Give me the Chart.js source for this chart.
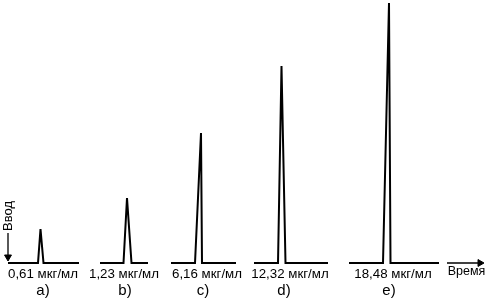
<!DOCTYPE html>
<html>
<head>
<meta charset="utf-8">
<script src="https://cdn.jsdelivr.net/npm/chart.js@4/dist/chart.umd.min.js"></script>
<style>
  html, body { margin: 0; padding: 0; background: #fff; }
  #wrap { width: 490px; height: 305px; }
</style>
</head>
<body>
<div id="wrap"><canvas id="chrom"></canvas></div>
<script>
// концентрации и подписи
const concLabels = ['0,61 мкг/мл', '1,23 мкг/мл', '6,16 мкг/мл', '12,32 мкг/мл', '18,48 мкг/мл'];
const letters = ['a)', 'b)', 'c)', 'd)', 'e)'];

// каждая хроматограмма: начало/конец базовой линии, подъём, вершина, спад, высота пика
const traceStart = [8, 100, 171, 254, 349];
const traceEnd = [79, 148, 236, 328, 439];
const peakRise = [38, 123.5, 195, 278, 383];
const peakApex = [40.5, 127, 201, 281.5, 389];
const peakFall = [43.5, 131.5, 202, 285.5, 390.5];
const peakHeight = [34, 65, 130, 197, 260];

// где стоят подписи (по оси времени)
const concLabelX = [43, 124, 207, 290, 393];
const letterX = [43, 125, 203, 284, 389];

// оси
const timeArrow = [447, 484];
const inputArrowX = 8;
const inputArrow = [30, 2];

const datasets = concLabels.map((lbl, i) => ({
  label: lbl,
  data: [
    { x: traceStart[i], y: 0 },
    { x: peakRise[i], y: 0 },
    { x: peakApex[i], y: peakHeight[i] },
    { x: peakFall[i], y: 0 },
    { x: traceEnd[i], y: 0 }
  ],
  borderColor: '#000',
  borderWidth: 2,
  pointRadius: 0,
  tension: 0,
  clip: false
}));

// стрелка "Время"
datasets.push({
  label: 'Время',
  data: [{ x: timeArrow[0], y: 0 }, { x: timeArrow[1] - 4, y: 0 }],
  borderColor: '#000',
  borderWidth: 1.3,
  pointStyle: 'triangle',
  pointRadius: [0, 4],
  pointRotation: 90,
  pointBackgroundColor: '#000',
  pointBorderColor: '#000',
  pointBorderWidth: 1,
  clip: false
});

// стрелка "Ввод"
datasets.push({
  label: 'Ввод',
  data: [{ x: inputArrowX, y: inputArrow[0] }, { x: inputArrowX, y: inputArrow[1] + 4 }],
  borderColor: '#000',
  borderWidth: 1.3,
  pointStyle: 'triangle',
  pointRadius: [0, 4],
  pointRotation: 180,
  pointBackgroundColor: '#000',
  pointBorderColor: '#000',
  pointBorderWidth: 1,
  clip: false
});

const textPlugin = {
  id: 'texts',
  afterDatasetsDraw(chart) {
    const ctx = chart.ctx;
    const xs = chart.scales.x, ys = chart.scales.y;
    ctx.save();
    ctx.fillStyle = '#000';
    ctx.textAlign = 'center';
    ctx.textBaseline = 'middle';
    ctx.font = '13.3px "Liberation Sans", Arial, sans-serif';
    concLabels.forEach((t, i) => {
      ctx.fillText(t, xs.getPixelForValue(concLabelX[i]), ys.getPixelForValue(-11));
    });
    ctx.font = '12.5px "Liberation Sans", Arial, sans-serif';
    ctx.fillText('Время', xs.getPixelForValue(466.5), ys.getPixelForValue(-9));
    ctx.font = '15px "Liberation Sans", Arial, sans-serif';
    letters.forEach((t, i) => {
      ctx.fillText(t, xs.getPixelForValue(letterX[i]), ys.getPixelForValue(-27.5));
    });
    // вертикальная подпись
    ctx.font = '13px "Liberation Sans", Arial, sans-serif';
    ctx.translate(xs.getPixelForValue(inputArrowX), ys.getPixelForValue(47));
    ctx.rotate(-Math.PI / 2);
    ctx.fillText('Ввод', 0, 0);
    ctx.restore();
  }
};

new Chart(document.getElementById('chrom'), {
  type: 'line',
  data: { datasets },
  options: {
    responsive: true,
    maintainAspectRatio: false,
    animation: false,
    layout: { padding: 0, autoPadding: false },
    scales: {
      x: { type: 'linear', min: 0, max: 490, display: false },
      y: { type: 'linear', min: -42, max: 263, display: false }
    },
    plugins: {
      legend: { display: false },
      tooltip: { enabled: false }
    }
  },
  plugins: [textPlugin]
});
</script>
</body>
</html>
